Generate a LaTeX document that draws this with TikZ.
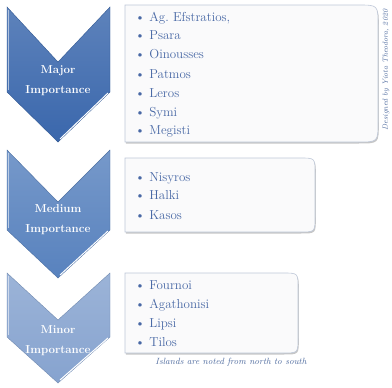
\documentclass[tikz,border=0pt]{standalone}
\usetikzlibrary{shadows}
\definecolor{chevA}{RGB}{58,103,172}
\definecolor{chevB}{RGB}{88,130,190}
\definecolor{chevC}{RGB}{134,163,207}
\definecolor{listblue}{RGB}{72,104,165}
\definecolor{boxfill}{RGB}{250,250,251}
\definecolor{boxline}{RGB}{190,199,216}
\tikzset{
  chevron/.style={draw=#1!85!black, line width=.4pt, top color=#1!82!white, bottom color=#1},
  listbox/.style={fill=boxfill, draw=boxline, line width=.6pt,
    drop shadow={shadow xshift=.8pt, shadow yshift=-1.5pt, fill=black!50, opacity=.45}},
  level/.style={text=white, align=center, font=\bfseries\fontsize{11.5}{20}\selectfont},
  item/.style={anchor=base west, inner sep=0pt, text=listblue, font=\fontsize{13}{15}\selectfont},
  note/.style={text=listblue!85!gray, font=\itshape\fontsize{9}{10}\selectfont}
}
\begin{document}
\begin{tikzpicture}[x=1pt,y=-1pt]
  \useasboundingbox (0,0) rectangle (392,388);
  % arrows
  \foreach \t/\n/\s/\e/\c in {7/62/92/142/chevA, 150/202/230/278/chevB, 273/320/337/383/chevC}
    {\draw[chevron=\c] (7,\t) -- (58,\n) -- (110,\t) -- (110,\s) -- (58,\e) -- (7,\s) -- cycle;
     \draw[white, line width=1pt] (108,\s+1) -- (60,\e-3);
     \draw[white!60!\c, line width=.6pt] (8.5,\t+3) -- (8.5,\s-2);}
  \node[level] (major) at (58,81) {Major\\Importance};
  \node[level] (medium) at (58,220) {Medium\\Importance};
  \node[level] (minor) at (58,341) {Minor\\Importance};
  % boxes
  \foreach \t/\r/\b/\rad in {5/378/142/20, 158/315/232/15, 273/298/353/15}
    \draw[listbox] (125,\b) -- (125,\t) -- (\r-\rad,\t) .. controls (\r,\t) .. (\r,\t+\rad)
      -- (\r,\b-\rad) .. controls (\r,\b) .. (\r-\rad,\b) -- cycle;
  \foreach \isl [count=\i] in {{Ag.\ Efstratios,},Psara,Oinousses,Patmos,Leros,Symi,Megisti}
    \node[item] (major-\i) at (135,{21+19*(\i-1)}) {\textbullet\ \isl};
  \foreach \isl [count=\i] in {Nisyros,Halki,Kasos}
    \node[item] (medium-\i) at (135,{181+19*(\i-1)}) {\textbullet\ \isl};
  \foreach \isl [count=\i] in {Fournoi,Agathonisi,Lipsi,Tilos}
    \node[item] (minor-\i) at (135,{289+19*(\i-1)}) {\textbullet\ \isl};
  \node[note] (note) at (231,362) {Islands are noted from north to south};
  \node[note, rotate=90, font=\itshape\fontsize{7.5}{9}\selectfont] (credit) at (386,70) {Designed by Yiota Theodora, 2020};
\end{tikzpicture}
\end{document}
